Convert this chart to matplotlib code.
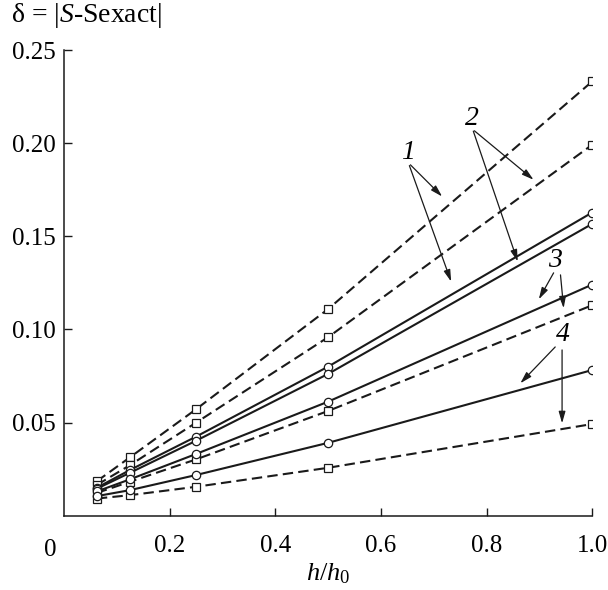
import matplotlib
matplotlib.use("Agg")
import matplotlib.pyplot as plt

plt.rcParams["font.family"] = ["Liberation Serif", "DejaVu Serif"]
plt.rcParams["mathtext.fontset"] = "custom"
plt.rcParams["mathtext.rm"] = "Liberation Serif"
plt.rcParams["mathtext.it"] = "Liberation Serif:italic"

# h/h0 grid
h_ratio = [0.0625, 0.125, 0.25, 0.5, 1.0]

# error curves, top to bottom at h/h0 = 1
err_1_dash = [0.0185, 0.0313, 0.0571, 0.1109, 0.2332]
err_2_dash = [0.0165, 0.0271, 0.0499, 0.0958, 0.1992]
err_2_solid = [0.0150, 0.0245, 0.0424, 0.0800, 0.1628]
err_1_solid = [0.0145, 0.0230, 0.0402, 0.0761, 0.1567]
err_3_solid = [0.0130, 0.0195, 0.0331, 0.0612, 0.1241]
err_3_dash = [0.0122, 0.0182, 0.0302, 0.0562, 0.1130]
err_4_solid = [0.0105, 0.0137, 0.0218, 0.0391, 0.0782]
err_4_dash = [0.0092, 0.0110, 0.0155, 0.0257, 0.0492]

dashed = [err_1_dash, err_2_dash, err_3_dash, err_4_dash]
solid = [err_2_solid, err_1_solid, err_3_solid, err_4_solid]

# curve labels: (text, label pos, [(arrow start, arrow tip), ...])
labels = [
    ("1", (0.652, 0.1950), [((0.656, 0.1884), (0.716, 0.1714)),
                            ((0.654, 0.1880), (0.733, 0.1257))]),
    ("2", (0.773, 0.2135), [((0.777, 0.2067), (0.889, 0.1804)),
                            ((0.775, 0.2065), (0.859, 0.1365))]),
    ("3", (0.930, 0.1370), [((0.927, 0.1304), (0.899, 0.1162)),
                            ((0.940, 0.1293), (0.946, 0.1114))]),
    ("4", (0.944, 0.0975), [((0.930, 0.0906), (0.864, 0.0711)),
                            ((0.943, 0.0890), (0.943, 0.0496))]),
]

fig = plt.figure(figsize=(6.08, 5.90), dpi=100)
ax = fig.add_axes([0.105, 0.126, 0.869, 0.789])

for ys in dashed:
    ax.plot(h_ratio, ys, color="#1a1a1a", lw=1.5, dashes=(5, 2.5),
            marker="s", ms=5.5, mfc="white", mec="#1a1a1a", mew=0.9)
for ys in solid:
    ax.plot(h_ratio, ys, color="#1a1a1a", lw=1.5,
            marker="o", ms=6, mfc="white", mec="#1a1a1a", mew=0.9)

for txt, pos, arrows in labels:
    ax.text(pos[0], pos[1], txt, fontsize=20, style="italic",
            ha="center", va="center")
    for start, tip in arrows:
        ax.annotate("", xy=tip, xytext=start,
                    arrowprops=dict(arrowstyle="-|>,head_length=0.7,head_width=0.2",
                                    color="#1a1a1a", lw=0.9,
                                    shrinkA=0, shrinkB=0))

ax.set_xlim(0, 1.0)
ax.set_ylim(0, 0.25)
ax.set_xticks([0.2, 0.4, 0.6, 0.8, 1.0])
ax.set_xticklabels(["0.2", "0.4", "0.6", "0.8", "1.0"])
ax.set_yticks([0.05, 0.10, 0.15, 0.20, 0.25])
ax.set_yticklabels(["0.05", "0.10", "0.15", "0.20", "0.25"])
ax.tick_params(direction="in", length=6, width=1, labelsize=18, color="#1a1a1a")
ax.tick_params(axis="x", pad=14)
ax.tick_params(axis="y", pad=6)
for s in ["top", "right"]:
    ax.spines[s].set_visible(False)
for s in ["left", "bottom"]:
    ax.spines[s].set_linewidth(1.1)
    ax.spines[s].set_color("#1a1a1a")

ax.text(-0.025, -0.0125, "0", fontsize=18, ha="center", va="top",
        transform=ax.transData, clip_on=False)
ax.set_xlabel("$h/h_0$", fontsize=19, labelpad=3)
fig.text(0.018, 0.973, r"δ = |$S$-Sexact|", fontsize=20, ha="left", va="center")

fig.savefig("out.png", dpi=100)
